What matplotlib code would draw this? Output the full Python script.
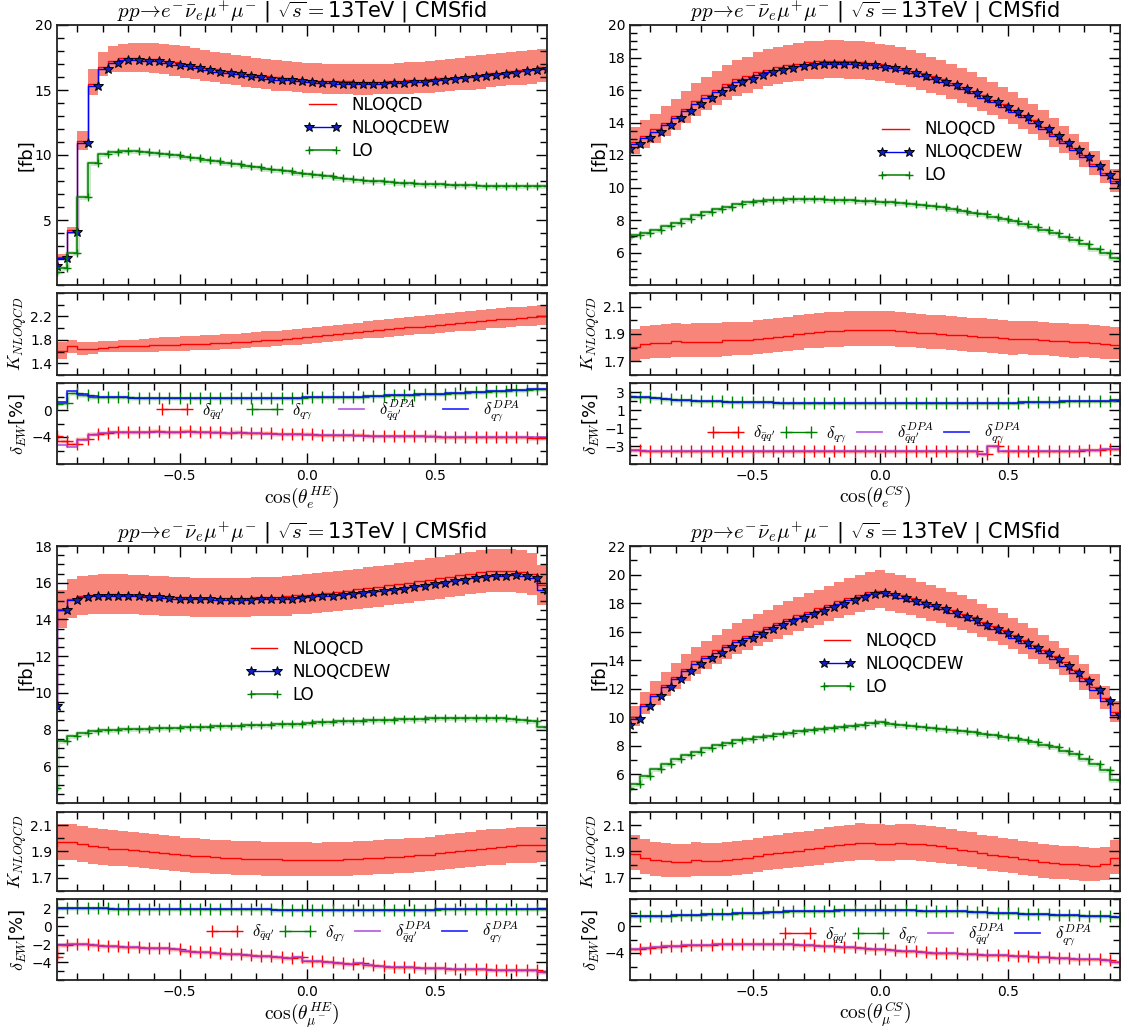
import numpy as np
import matplotlib
matplotlib.use("Agg")
import matplotlib.pyplot as plt
from matplotlib.lines import Line2D
from matplotlib.legend_handler import HandlerLine2D
from matplotlib.ticker import MultipleLocator

plt.rcParams["mathtext.fontset"] = "cm"
plt.rcParams["font.family"] = "DejaVu Sans"

# bin positions in cos(theta), 0.04 wide
cos_theta = np.linspace(-0.98, 0.94, 49)

# ---- cos(theta_e^HE) ----
he_e_nlo = [1.6, 2.15, 4.25, 11.1, 15.5, 16.8, 17.25, 17.45, 17.48, 17.42,
            17.36, 17.22, 17.12, 17.02, 16.88, 16.73, 16.58, 16.5, 16.37, 16.25,
            16.17, 16.04, 15.97, 15.92, 15.87, 15.79, 15.73, 15.7, 15.66, 15.66,
            15.65, 15.65, 15.65, 15.66, 15.7, 15.75, 15.77, 15.85, 15.9, 15.95,
            16.02, 16.09, 16.17, 16.27, 16.34, 16.44, 16.54, 16.65, 16.75]
he_e_nlo_up = [1.72, 2.35, 4.5, 11.85, 16.6, 17.9, 18.35, 18.55, 18.65, 18.65,
               18.62, 18.55, 18.45, 18.35, 18.22, 18.1, 17.95, 17.85, 17.72, 17.6,
               17.5, 17.4, 17.3, 17.22, 17.15, 17.1, 17.05, 17.0, 16.98, 16.97,
               16.97, 16.98, 17.0, 17.02, 17.06, 17.12, 17.17, 17.25, 17.32, 17.4,
               17.5, 17.58, 17.67, 17.77, 17.85, 17.93, 18.0, 18.08, 18.15]
he_e_nlo_dn = [1.45, 1.95, 3.95, 10.4, 14.6, 16.1, 16.35, 16.4, 16.4, 16.35,
               16.3, 16.2, 16.1, 15.95, 15.85, 15.7, 15.6, 15.5, 15.35, 15.25,
               15.15, 15.05, 14.95, 14.9, 14.85, 14.8, 14.75, 14.7, 14.68, 14.66,
               14.65, 14.65, 14.66, 14.67, 14.7, 14.72, 14.75, 14.8, 14.85, 14.9,
               14.97, 15.03, 15.1, 15.2, 15.27, 15.35, 15.42, 15.5, 15.6]
he_e_nloew = [1.5, 2.05, 4.1, 10.9, 15.3, 16.6, 17.1, 17.3, 17.33, 17.25,
              17.2, 17.05, 16.95, 16.85, 16.7, 16.55, 16.4, 16.33, 16.2, 16.08,
              16.0, 15.87, 15.8, 15.75, 15.7, 15.62, 15.56, 15.54, 15.5, 15.5,
              15.5, 15.5, 15.5, 15.52, 15.56, 15.62, 15.64, 15.72, 15.77, 15.82,
              15.9, 15.97, 16.05, 16.15, 16.23, 16.33, 16.43, 16.54, 16.64]
he_e_lo = [1.0, 1.33, 2.5, 6.75, 9.4, 10.08, 10.26, 10.3, 10.33, 10.26,
           10.18, 10.08, 9.97, 9.87, 9.77, 9.64, 9.54, 9.41, 9.31, 9.18,
           9.05, 8.95, 8.85, 8.74, 8.64, 8.54, 8.44, 8.36, 8.26, 8.18,
           8.1, 8.03, 7.97, 7.92, 7.87, 7.82, 7.79, 7.77, 7.74, 7.72,
           7.69, 7.67, 7.64, 7.62, 7.6, 7.6, 7.6, 7.6, 7.6]
he_e_dqq = [-3.85, -4.6, -5.0, -4.35, -3.6, -3.35, -3.25, -3.2, -3.2, -3.2,
            -3.15, -3.2, -3.2, -3.15, -3.25, -3.3, -3.3, -3.35, -3.3, -3.4,
            -3.4, -3.45, -3.5, -3.55, -3.6, -3.6, -3.65, -3.7, -3.7, -3.75,
            -3.75, -3.8, -3.8, -3.85, -3.85, -3.85, -3.9, -3.9, -3.95, -3.95,
            -3.95, -4.0, -4.0, -4.0, -4.05, -4.05, -4.05, -4.1, -4.1]
he_e_dqq_dpa = [-4.4, -5.2, -5.5, -4.5, -3.7, -3.4, -3.3, -3.25, -3.25, -3.25,
                -3.25, -3.25, -3.25, -3.25, -3.3, -3.3, -3.35, -3.4, -3.4, -3.45,
                -3.45, -3.5, -3.55, -3.6, -3.6, -3.65, -3.7, -3.7, -3.75, -3.75,
                -3.8, -3.8, -3.85, -3.85, -3.9, -3.9, -3.9, -3.95, -3.95, -3.95,
                -4.0, -4.0, -4.0, -4.0, -4.05, -4.05, -4.05, -4.05, -4.05]
he_e_dqa = [0.9, 1.0, 2.5, 2.2, 2.0, 1.95, 1.9, 1.9, 1.85, 1.85,
            1.85, 1.85, 1.85, 1.85, 1.85, 1.85, 1.85, 1.85, 1.85, 1.85,
            1.85, 1.85, 1.85, 1.85, 1.85, 1.9, 1.9, 1.9, 1.95, 2.0,
            2.0, 2.05, 2.1, 2.15, 2.2, 2.25, 2.3, 2.35, 2.4, 2.5,
            2.55, 2.6, 2.7, 2.75, 2.85, 2.9, 3.0, 3.05, 3.15]
he_e_dqa_dpa = [0.9, 1.2, 2.85, 2.35, 2.05, 1.95, 1.9, 1.9, 1.85, 1.85,
                1.85, 1.85, 1.85, 1.85, 1.85, 1.85, 1.85, 1.85, 1.85, 1.85,
                1.85, 1.85, 1.85, 1.85, 1.85, 1.9, 1.9, 1.9, 1.95, 2.0,
                2.0, 2.05, 2.1, 2.15, 2.2, 2.25, 2.3, 2.35, 2.4, 2.5,
                2.55, 2.6, 2.7, 2.75, 2.85, 2.9, 3.0, 3.05, 3.15]

# ---- cos(theta_e^CS) ----
cs_e_nlo = [12.5, 12.82, 13.2, 13.57, 14.0, 14.43, 14.86, 15.31, 15.68, 16.03,
            16.36, 16.65, 16.85, 17.1, 17.26, 17.41, 17.53, 17.63, 17.72, 17.76,
            17.78, 17.78, 17.76, 17.72, 17.68, 17.59, 17.49, 17.37, 17.2, 17.02,
            16.85, 16.67, 16.44, 16.19, 15.94, 15.67, 15.4, 15.11, 14.8, 14.49,
            14.14, 13.75, 13.32, 12.88, 12.43, 11.97, 11.45, 10.92, 10.37]
cs_e_nlo_up = [13.4, 13.74, 14.15, 14.55, 15.01, 15.47, 15.93, 16.41, 16.81, 17.18,
               17.54, 17.85, 18.06, 18.33, 18.5, 18.66, 18.79, 18.9, 19.0, 19.04,
               19.06, 19.06, 19.04, 19.0, 18.95, 18.86, 18.75, 18.62, 18.44, 18.25,
               18.06, 17.87, 17.62, 17.36, 17.09, 16.8, 16.51, 16.2, 15.87, 15.53,
               15.16, 14.74, 14.28, 13.81, 13.32, 12.83, 12.27, 11.71, 11.12]
cs_e_nlo_dn = [11.75, 12.05, 12.41, 12.76, 13.16, 13.56, 13.97, 14.39, 14.74, 15.07,
               15.38, 15.65, 15.84, 16.07, 16.22, 16.37, 16.48, 16.57, 16.66, 16.69,
               16.71, 16.71, 16.69, 16.66, 16.62, 16.53, 16.44, 16.33, 16.17, 16.0,
               15.84, 15.67, 15.45, 15.22, 14.98, 14.73, 14.48, 14.2, 13.91, 13.62,
               13.29, 12.93, 12.52, 12.11, 11.68, 11.25, 10.76, 10.26, 9.75]
cs_e_nloew = [12.36, 12.67, 13.04, 13.41, 13.84, 14.27, 14.7, 15.15, 15.52, 15.87,
              16.2, 16.49, 16.69, 16.94, 17.1, 17.25, 17.37, 17.47, 17.56, 17.6,
              17.62, 17.62, 17.6, 17.56, 17.52, 17.43, 17.33, 17.21, 17.04, 16.86,
              16.69, 16.51, 16.28, 16.04, 15.79, 15.52, 15.26, 14.97, 14.66, 14.35,
              14.0, 13.61, 13.18, 12.75, 12.3, 11.85, 11.33, 10.8, 10.25]
cs_e_lo = [6.96, 7.1, 7.23, 7.41, 7.62, 7.82, 8.07, 8.3, 8.5, 8.69,
           8.83, 8.97, 9.08, 9.16, 9.22, 9.26, 9.28, 9.28, 9.28, 9.28,
           9.26, 9.24, 9.22, 9.2, 9.16, 9.12, 9.08, 9.04, 8.97, 8.91,
           8.85, 8.77, 8.67, 8.56, 8.46, 8.34, 8.21, 8.09, 7.95, 7.78,
           7.6, 7.41, 7.21, 6.98, 6.76, 6.51, 6.24, 5.98, 5.69]
cs_e_dqq = [-3.45, -3.45, -3.5, -3.55, -3.6, -3.6, -3.6, -3.6, -3.6, -3.6,
            -3.6, -3.6, -3.55, -3.55, -3.6, -3.6, -3.6, -3.6, -3.55, -3.55,
            -3.6, -3.6, -3.6, -3.6, -3.6, -3.55, -3.55, -3.6, -3.6, -3.6,
            -3.6, -3.6, -3.6, -3.6, -3.6, -3.9, -3.05, -3.6, -3.6, -3.6,
            -3.55, -3.55, -3.55, -3.5, -3.5, -3.45, -3.4, -3.35, -3.3]
cs_e_dqa = [2.55, 2.5, 2.4, 2.3, 2.2, 2.15, 2.1, 2.05, 2.0, 1.95,
            1.9, 1.9, 1.85, 1.85, 1.85, 1.8, 1.8, 1.8, 1.8, 1.8,
            1.8, 1.8, 1.8, 1.8, 1.8, 1.8, 1.8, 1.8, 1.8, 1.8,
            1.8, 1.8, 1.8, 1.8, 1.8, 1.8, 1.8, 1.8, 1.8, 1.85,
            1.85, 1.9, 1.9, 1.95, 1.95, 2.0, 2.0, 2.05, 2.1]

# ---- cos(theta_mu-^HE) ----
he_mu_nlo = [9.35, 14.55, 15.1, 15.28, 15.32, 15.35, 15.36, 15.35, 15.33, 15.3,
             15.27, 15.25, 15.22, 15.2, 15.18, 15.18, 15.17, 15.17, 15.17, 15.18,
             15.2, 15.21, 15.23, 15.25, 15.31, 15.35, 15.4, 15.45, 15.51, 15.57,
             15.64, 15.7, 15.77, 15.85, 15.91, 16.0, 16.07, 16.16, 16.24, 16.33,
             16.42, 16.49, 16.57, 16.63, 16.63, 16.64, 16.58, 16.45, 15.85]
he_mu_nlo_up = [10.02, 15.6, 16.19, 16.38, 16.42, 16.46, 16.47, 16.46, 16.43, 16.4,
                16.37, 16.35, 16.32, 16.29, 16.27, 16.27, 16.26, 16.26, 16.26, 16.27,
                16.29, 16.31, 16.33, 16.35, 16.41, 16.46, 16.51, 16.56, 16.63, 16.69,
                16.77, 16.83, 16.91, 16.99, 17.06, 17.15, 17.23, 17.32, 17.41, 17.51,
                17.6, 17.68, 17.76, 17.83, 17.83, 17.84, 17.77, 17.63, 16.99]
he_mu_nlo_dn = [8.71, 13.56, 14.07, 14.24, 14.28, 14.31, 14.32, 14.31, 14.29, 14.26,
                14.23, 14.21, 14.19, 14.17, 14.15, 14.15, 14.14, 14.14, 14.14, 14.15,
                14.17, 14.18, 14.19, 14.21, 14.27, 14.31, 14.35, 14.4, 14.46, 14.51,
                14.58, 14.63, 14.7, 14.77, 14.83, 14.91, 14.98, 15.06, 15.14, 15.22,
                15.3, 15.37, 15.44, 15.5, 15.5, 15.51, 15.45, 15.33, 14.77]
he_mu_nloew = [9.26, 14.5, 15.05, 15.23, 15.27, 15.3, 15.3, 15.29, 15.27, 15.23,
               15.2, 15.18, 15.14, 15.12, 15.09, 15.09, 15.07, 15.07, 15.07, 15.07,
               15.09, 15.09, 15.1, 15.12, 15.18, 15.21, 15.25, 15.29, 15.34, 15.39,
               15.45, 15.5, 15.56, 15.63, 15.68, 15.77, 15.83, 15.92, 15.99, 16.08,
               16.17, 16.24, 16.32, 16.39, 16.39, 16.41, 16.35, 16.23, 15.6]
he_mu_lo = [4.82, 7.39, 7.67, 7.81, 7.9, 7.95, 7.99, 8.01, 8.03, 8.05,
            8.06, 8.08, 8.1, 8.12, 8.14, 8.15, 8.17, 8.19, 8.21, 8.23,
            8.24, 8.26, 8.28, 8.3, 8.33, 8.35, 8.39, 8.41, 8.44, 8.46,
            8.48, 8.5, 8.52, 8.53, 8.55, 8.57, 8.59, 8.61, 8.61, 8.62,
            8.62, 8.62, 8.62, 8.62, 8.61, 8.57, 8.52, 8.44, 8.13]
he_mu_dqq = [-3.45, -2.1, -2.05, -2.0, -2.1, -2.2, -2.2, -2.28, -2.35, -2.4,
             -2.43, -2.47, -2.5, -2.77, -2.85, -2.92, -2.96, -3.07, -3.15, -3.18,
             -3.3, -3.37, -3.45, -3.6, -3.45, -3.86, -3.93, -4.04, -4.16, -4.2,
             -4.12, -4.38, -4.46, -4.5, -4.53, -4.57, -4.64, -4.68, -4.72, -4.76,
             -4.8, -4.8, -4.83, -4.87, -4.9, -4.9, -4.9, -4.94, -5.13]
he_mu_dqa = [1.95, 1.95, 1.95, 1.95, 1.95, 1.95, 1.9, 1.9, 1.9, 1.9,
             1.9, 1.9, 1.9, 1.85, 1.85, 1.85, 1.85, 1.85, 1.85, 1.85,
             1.85, 1.85, 1.8, 1.8, 1.8, 1.8, 1.8, 1.8, 1.8, 1.8,
             1.8, 1.8, 1.8, 1.8, 1.8, 1.8, 1.8, 1.8, 1.85, 1.85,
             1.85, 1.85, 1.85, 1.85, 1.85, 1.85, 1.85, 1.85, 1.85]

# ---- cos(theta_mu-^CS) ----
cs_mu_nlo = [9.6, 10.02, 10.93, 11.65, 12.28, 12.84, 13.4, 13.92, 14.31, 14.69,
             15.06, 15.43, 15.71, 16.02, 16.32, 16.6, 16.88, 17.14, 17.39, 17.63,
             17.88, 18.12, 18.35, 18.58, 18.77, 18.88, 18.7, 18.55, 18.35, 18.15,
             17.95, 17.75, 17.5, 17.25, 17.0, 16.7, 16.4, 16.1, 15.8, 15.45,
             15.1, 14.7, 14.3, 13.85, 13.35, 12.75, 12.1, 11.35, 10.35]
cs_mu_nlo_up = [10.32, 10.77, 11.75, 12.52, 13.2, 13.8, 14.41, 14.96, 15.38, 15.79,
                16.19, 16.59, 16.89, 17.22, 17.54, 17.85, 18.15, 18.43, 18.69, 18.95,
                19.22, 19.48, 19.73, 19.97, 20.18, 20.3, 20.1, 19.94, 19.73, 19.51,
                19.3, 19.08, 18.81, 18.54, 18.28, 17.95, 17.63, 17.31, 16.99, 16.61,
                16.23, 15.8, 15.37, 14.89, 14.35, 13.71, 13.01, 12.2, 11.13]
cs_mu_nlo_dn = [8.98, 9.37, 10.22, 10.89, 11.48, 12.01, 12.53, 13.02, 13.38, 13.74,
                14.08, 14.43, 14.69, 14.98, 15.26, 15.52, 15.78, 16.03, 16.26, 16.48,
                16.72, 16.94, 17.16, 17.37, 17.55, 17.65, 17.48, 17.34, 17.16, 16.97,
                16.78, 16.6, 16.36, 16.13, 15.9, 15.61, 15.33, 15.05, 14.77, 14.45,
                14.12, 13.74, 13.37, 12.95, 12.48, 11.92, 11.31, 10.61, 9.68]
cs_mu_nloew = [9.45, 9.87, 10.78, 11.5, 12.13, 12.69, 13.25, 13.77, 14.16, 14.54,
               14.91, 15.28, 15.56, 15.87, 16.17, 16.45, 16.73, 16.99, 17.24, 17.48,
               17.73, 17.97, 18.2, 18.43, 18.62, 18.73, 18.54, 18.38, 18.18, 17.97,
               17.77, 17.56, 17.3, 17.05, 16.8, 16.49, 16.19, 15.88, 15.58, 15.23,
               14.88, 14.48, 14.08, 13.63, 13.13, 12.54, 11.9, 11.15, 10.15]
cs_mu_lo = [5.07, 5.32, 5.9, 6.35, 6.72, 7.05, 7.35, 7.59, 7.82, 8.03,
            8.22, 8.38, 8.5, 8.59, 8.68, 8.8, 8.89, 9.01, 9.08, 9.15,
            9.22, 9.29, 9.38, 9.45, 9.57, 9.64, 9.55, 9.45, 9.36, 9.29,
            9.22, 9.15, 9.08, 9.01, 8.94, 8.85, 8.75, 8.64, 8.52, 8.4,
            8.24, 8.08, 7.89, 7.66, 7.4, 7.1, 6.75, 6.3, 5.6]
cs_mu_dqq = [-3.4, -3.35, -3.2, -3.1, -3.0, -2.9, -2.85, -2.8, -2.75, -2.7,
             -2.7, -2.65, -2.65, -2.65, -2.65, -2.7, -2.7, -2.75, -2.8, -2.9,
             -2.95, -3.05, -3.15, -3.25, -3.35, -3.45, -3.55, -3.65, -3.75, -3.85,
             -3.95, -4.0, -4.05, -4.15, -4.2, -4.25, -4.3, -4.35, -4.45, -4.5,
             -4.6, -4.65, -4.75, -4.8, -4.85, -4.9, -4.95, -5.05, -5.35]
cs_mu_dqa = [1.5, 1.5, 1.5, 1.5, 1.55, 1.6, 1.65, 1.7, 1.75, 1.8,
             1.85, 1.9, 1.95, 2.0, 2.05, 2.1, 2.15, 2.2, 2.2, 2.25,
             2.25, 2.3, 2.3, 2.3, 2.3, 2.3, 2.3, 2.3, 2.3, 2.25,
             2.25, 2.2, 2.2, 2.15, 2.1, 2.05, 2.0, 1.95, 1.9, 1.85,
             1.8, 1.75, 1.7, 1.65, 1.6, 1.55, 1.5, 1.45, 1.4]

TITLE = r"$pp\!\to\! e^{-}\bar{\nu}_{e}\mu^{+}\mu^{-}$ | $\sqrt{s}=$13TeV | CMSfid"
BAND = "#f8857a"
PURPLE = "#a63ee0"
# legend markers sit at the very ends of the handle line
END_MARKERS = {Line2D: HandlerLine2D(marker_pad=0.0)}

panels = [
    dict(nlo=he_e_nlo, up=he_e_nlo_up, dn=he_e_nlo_dn, ew=he_e_nloew, lo=he_e_lo,
         dqq=he_e_dqq, dqa=he_e_dqa, dqq_dpa=he_e_dqq_dpa, dqa_dpa=he_e_dqa_dpa,
         xlabel=r"$\cos(\theta_e^{HE})$", col=0, row=0,
         ylim=(0, 20), yticks=[5, 10, 15, 20], yminor=1,
         klim=(1.2, 2.6), kticks=[1.4, 1.8, 2.2], kminor=0.2,
         dlim=(-8, 4), dticks=[-4, 0], dminor=2,
         leg=(0.515, 0.605), dleg=(0.215, 0.66), dcol=1.6),
    dict(nlo=cs_e_nlo, up=cs_e_nlo_up, dn=cs_e_nlo_dn, ew=cs_e_nloew, lo=cs_e_lo,
         dqq=cs_e_dqq, dqa=cs_e_dqa, dqq_dpa=cs_e_dqq, dqa_dpa=cs_e_dqa,
         xlabel=r"$\cos(\theta_e^{CS})$", col=1, row=0,
         ylim=(4, 20), yticks=list(range(6, 21, 2)), yminor=0.5,
         klim=(1.6, 2.2), kticks=[1.7, 1.9, 2.1], kminor=0.1,
         dlim=(-5, 4), dticks=[-3, -1, 1, 3], dminor=1,
         leg=(0.515, 0.51), dleg=(0.17, 0.38), dcol=0.6),
    dict(nlo=he_mu_nlo, up=he_mu_nlo_up, dn=he_mu_nlo_dn, ew=he_mu_nloew, lo=he_mu_lo,
         dqq=he_mu_dqq, dqa=he_mu_dqa, dqq_dpa=he_mu_dqq, dqa_dpa=he_mu_dqa,
         xlabel=r"$\cos(\theta_{\mu^-}^{HE})$", col=0, row=1,
         ylim=(4, 18), yticks=list(range(6, 19, 2)), yminor=0.5,
         klim=(1.6, 2.2), kticks=[1.7, 1.9, 2.1], kminor=0.1,
         dlim=(-6, 3), dticks=[-4, -2, 0, 2], dminor=1,
         leg=(0.395, 0.51), dleg=(0.316, 0.59), dcol=0.6),
    dict(nlo=cs_mu_nlo, up=cs_mu_nlo_up, dn=cs_mu_nlo_dn, ew=cs_mu_nloew, lo=cs_mu_lo,
         dqq=cs_mu_dqq, dqa=cs_mu_dqa, dqq_dpa=cs_mu_dqq, dqa_dpa=cs_mu_dqa,
         xlabel=r"$\cos(\theta_{\mu^-}^{CS})$", col=1, row=1,
         ylim=(4, 22), yticks=list(range(6, 23, 2)), yminor=1,
         klim=(1.6, 2.2), kticks=[1.7, 1.9, 2.1], kminor=0.1,
         dlim=(-8, 4), dticks=[-4, 0], dminor=2,
         leg=(0.395, 0.54), dleg=(0.316, 0.56), dcol=0.6),
]

W, H = 1129, 1034
COL_X = [57, 630]
COL_W = 490
# (top, bottom) in pixels for main, K, delta axes of each row
ROW_Y = [[(25, 285), (293, 375), (383, 464)],
         [(546, 803), (812, 891), (899, 980)]]


def px_axes(fig, x0, top, bottom):
    return fig.add_axes([x0 / W, 1 - bottom / H, COL_W / W, (bottom - top) / H])


def style(ax, labels_x, label_x):
    ax.set_xlim(-0.98, 0.94)
    ax.xaxis.set_major_locator(MultipleLocator(0.5))
    ax.xaxis.set_minor_locator(MultipleLocator(0.1))
    ax.tick_params(which="both", direction="in", top=True, right=True,
                   labelsize=10, width=1)
    ax.tick_params(which="major", length=8)
    ax.tick_params(which="minor", length=5)
    if not labels_x:
        ax.tick_params(labelbottom=False)
    for s in ax.spines.values():
        s.set_linewidth(1.3)
        s.set_color("#222222")
    ax.yaxis.set_label_coords(label_x, 0.5)


def draw(fig, p):
    x = cos_theta
    nlo, up, dn = np.array(p["nlo"]), np.array(p["up"]), np.array(p["dn"])
    lo = np.array(p["lo"])
    rows = ROW_Y[p["row"]]
    x0 = COL_X[p["col"]]

    ax = px_axes(fig, x0, *rows[0])
    ax.fill_between(x, dn, up, step="pre", color=BAND, lw=0)
    ax.step(x, lo, where="pre", color="green", lw=3.5, alpha=0.2)
    ax.step(x, nlo, where="pre", color="red", lw=1, label="NLOQCD")
    ax.step(x, p["ew"], where="pre", color="blue", lw=1, marker="*", ms=7,
            mfc="#1020c0", mec="black", mew=0.7, label="NLOQCDEW")
    ax.step(x, lo, where="pre", color="green", lw=1.1, marker="+", ms=6,
            mew=1, label="LO")
    ax.set_ylim(*p["ylim"])
    ax.set_yticks(p["yticks"])
    ax.yaxis.set_minor_locator(MultipleLocator(p["yminor"]))
    ax.set_ylabel("[fb]", fontsize=13)
    ax.set_title(TITLE, fontsize=15, pad=2)
    ax.legend(loc="center left", bbox_to_anchor=p["leg"], frameon=False,
              fontsize=12, numpoints=2, handlelength=1.6, handletextpad=0.9,
              labelspacing=0.3, borderpad=0, borderaxespad=0,
              handler_map=END_MARKERS)
    style(ax, False, -0.045)

    axk = px_axes(fig, x0, *rows[1])
    axk.fill_between(x, dn / lo, up / lo, step="pre", color=BAND, lw=0)
    axk.step(x, nlo / lo, where="pre", color="red", lw=1)
    axk.set_ylim(*p["klim"])
    axk.set_yticks(p["kticks"])
    axk.yaxis.set_minor_locator(MultipleLocator(p["kminor"]))
    axk.set_ylabel(r"$K_{NLOQCD}$", fontsize=13)
    style(axk, False, -0.058)

    axd = px_axes(fig, x0, *rows[2])
    for series, colour in ((p["dqq"], "red"), (p["dqa"], "green")):
        axd.step(x, series, where="pre", color=colour, lw=3.5, alpha=0.15)
    axd.step(x, p["dqq"], where="pre", color="red", lw=1, marker="+", ms=8,
             mew=1, label=r"$\delta_{\bar{q}q^{\prime}}$")
    axd.step(x, p["dqa"], where="pre", color="green", lw=1, marker="+", ms=8,
             mew=1, label=r"$\delta_{q\gamma}$")
    axd.step(x, p["dqq_dpa"], where="pre", color=PURPLE, lw=1.3, alpha=0.8,
             label=r"$\delta^{DPA}_{\bar{q}q^{\prime}}$")
    axd.step(x, p["dqa_dpa"], where="pre", color="blue", lw=1.3, alpha=0.8,
             label=r"$\delta^{DPA}_{q\gamma}$")
    axd.set_ylim(*p["dlim"])
    axd.set_yticks(p["dticks"])
    axd.yaxis.set_minor_locator(MultipleLocator(p["dminor"]))
    axd.set_ylabel(r"$\delta_{EW}$[%]", fontsize=13)
    axd.set_xlabel(p["xlabel"], fontsize=14, labelpad=1)
    axd.legend(loc="center left", bbox_to_anchor=p["dleg"], frameon=False,
               fontsize=12, ncol=4, numpoints=2, handlelength=1.5,
               handletextpad=0.9, columnspacing=p["dcol"], borderpad=0,
               borderaxespad=0, handler_map=END_MARKERS)
    style(axd, True, -0.058)


fig = plt.figure(figsize=(W / 100, H / 100), dpi=100)
for p in panels:
    draw(fig, p)
fig.savefig("out.png", dpi=100)
